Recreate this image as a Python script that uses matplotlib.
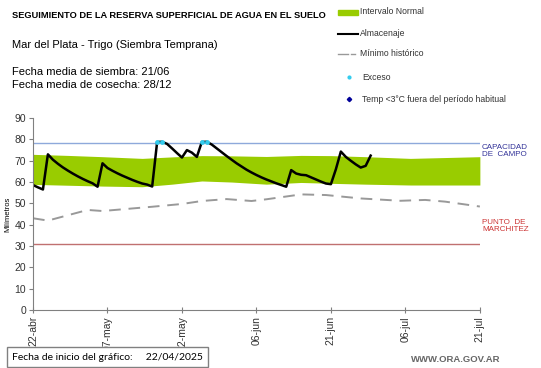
import pandas as pd
import matplotlib
matplotlib.use("Agg")
import matplotlib.pyplot as plt

plt.rcParams['font.family'] = ['Liberation Sans', 'DejaVu Sans']

start = pd.Timestamp("2025-04-22")

# almacenaje diario desde el 22/04
almacenaje = [58.6, 57.5, 56.5, 73.0, 70.5, 68.6, 66.9, 65.4, 64.0, 62.7,
              61.5, 60.4, 59.4, 57.8, 68.8, 66.6, 65.3, 64.1, 63.0, 62.0,
              61.0, 60.1, 59.3, 58.8, 57.9, 78.8, 78.9, 77.9, 75.8, 73.6,
              71.5, 75.0, 73.8, 71.8, 78.8, 78.9, 77.6, 75.8, 74.0, 72.2,
              70.5, 68.8, 67.3, 65.8, 64.5, 63.3, 62.2, 61.2, 60.3, 59.4,
              58.6, 57.8, 65.6, 64.0, 63.4, 63.2, 62.2, 61.2, 60.2, 59.3,
              59.0, 66.0, 74.3, 71.8, 70.0, 68.3, 66.8, 67.6, 72.4]

# intervalo normal
banda_dias = [0, 7, 14, 22, 28, 34, 40, 47, 54, 60, 67, 76, 83, 90]
banda_sup = [73.0, 72.5, 71.9, 71.1, 71.8, 72.4, 72.3, 72.0, 72.5, 72.4, 71.9, 71.1, 71.5, 71.9]
banda_inf = [58.9, 58.5, 58.1, 57.8, 59.0, 60.5, 60.0, 59.0, 59.8, 59.4, 59.0, 58.6, 58.6, 58.6]

# minimo historico
min_dias = [0, 3, 11, 14, 24, 30, 34, 39, 44, 47, 54, 59, 66, 74, 79, 83, 90]
min_hist = [43.0, 41.9, 46.9, 46.4, 48.4, 49.7, 51.1, 52.0, 51.1, 51.9, 54.2, 53.9, 52.3, 51.2, 51.6, 50.8, 48.5]

# excesos
exceso_dias = [25, 26, 34, 35]
exceso_vals = [78.6, 78.6, 78.6, 78.6]

capacidad = 78.4
marchitez = 31.0

fechas = pd.date_range(start, periods=len(almacenaje))
f_banda = [start + pd.Timedelta(days=d) for d in banda_dias]
f_min = [start + pd.Timedelta(days=d) for d in min_dias]
f_exc = [start + pd.Timedelta(days=d) for d in exceso_dias]
fin = start + pd.Timedelta(days=90)

fig = plt.figure(figsize=(5.41, 3.68), dpi=100)
ax = fig.add_axes([0.061, 0.158, 0.826, 0.521])

ax.fill_between(f_banda, banda_inf, banda_sup, color="#99CC00", lw=0)
ax.plot(f_min, min_hist, color="#999999", lw=1.4, dashes=(6, 4))
ax.axhline(capacidad, color="#8EA9DB", lw=1)
ax.axhline(marchitez, color="#C07070", lw=1)
ax.plot(fechas, almacenaje, color="black", lw=1.8)
ax.scatter(f_exc, exceso_vals, s=6, color="#33CCEE", zorder=5)

ax.set_xlim(start, fin)
ax.set_ylim(0, 90)
ax.set_yticks(range(0, 91, 10))
ticks = [start + pd.Timedelta(days=d) for d in range(0, 91, 15)]
ax.set_xticks(ticks)
meses = {4: "abr", 5: "may", 6: "jun", 7: "jul"}
ax.set_xticklabels([f"{t.day:02d}-{meses[t.month]}" for t in ticks], rotation=90)
ax.tick_params(labelsize=7.5, length=3, color="#808080", colors="#333333", pad=2)
ax.tick_params(axis="x", direction="inout", length=5)
for s in ["top", "right"]:
    ax.spines[s].set_visible(False)
for s in ["left", "bottom"]:
    ax.spines[s].set_color("#808080")
ax.set_ylabel("Milímetros", fontsize=5.5, labelpad=2)

ax.text(1.005, capacidad / 90 - 0.005, "CAPACIDAD\nDE  CAMPO", transform=ax.transAxes,
        fontsize=5.8, color="#333399", va="top", linespacing=1.1)
ax.text(1.005, 0.475, "PUNTO  DE\nMARCHITEZ", transform=ax.transAxes,
        fontsize=5.8, color="#CC3333", va="top", linespacing=1.1)

fig.text(12 / 541, 1 - 15 / 368, "SEGUIMIENTO DE LA RESERVA SUPERFICIAL DE AGUA EN EL SUELO",
         fontsize=6.7, fontweight="bold", va="center")
fig.text(12 / 541, 1 - 45 / 368, "Mar del Plata - Trigo (Siembra Temprana)", fontsize=8, va="center")
fig.text(12 / 541, 1 - 72 / 368, "Fecha media de siembra: 21/06", fontsize=8, va="center")
fig.text(12 / 541, 1 - 85 / 368, "Fecha media de cosecha: 28/12", fontsize=8, va="center")

# leyenda manual
ly = [12, 34, 54, 77, 99]
fig.patches.append(plt.Rectangle((338 / 541, 1 - 15 / 368), 20 / 541, 5 / 368,
                                 transform=fig.transFigure, color="#99CC00"))
fig.lines.append(plt.Line2D([338 / 541, 358 / 541], [1 - ly[1] / 368] * 2,
                            transform=fig.transFigure, color="black", lw=1.5))
fig.lines.append(plt.Line2D([338 / 541, 348 / 541], [1 - ly[2] / 368] * 2,
                            transform=fig.transFigure, color="#999999", lw=1))
fig.lines.append(plt.Line2D([351 / 541, 355 / 541], [1 - ly[2] / 368] * 2,
                            transform=fig.transFigure, color="#999999", lw=1))
fig.lines.append(plt.Line2D([348.5 / 541], [1 - ly[3] / 368], transform=fig.transFigure,
                            marker="o", ms=2, color="#33CCEE", lw=0))
fig.lines.append(plt.Line2D([348.5 / 541], [1 - ly[4] / 368], transform=fig.transFigure,
                            marker="D", ms=2.2, color="#000099", lw=0))
textos = ["Intervalo Normal", "Almacenaje", "Mínimo histórico", "Exceso",
          "Temp <3°C fuera del período habitual"]
tx = [360, 360, 360, 362, 362]
for y, t, x in zip(ly, textos, tx):
    fig.text(x / 541, 1 - y / 368, t, fontsize=6.2, va="center", color="#333333")

fig.text(12 / 541, 1 - 357 / 368, "Fecha de inicio del gráfico:     22/04/2025",
         fontsize=7.5, va="center", family="Lato", zorder=10,
         bbox=dict(boxstyle="square,pad=0.5", fc="white", ec="#808080", lw=1))
fig.text(500 / 541, 1 - 360 / 368, "WWW.ORA.GOV.AR", fontsize=6.8, color="#666666",
         ha="right", va="center", fontweight="bold")

fig.savefig("out.png", dpi=100)
